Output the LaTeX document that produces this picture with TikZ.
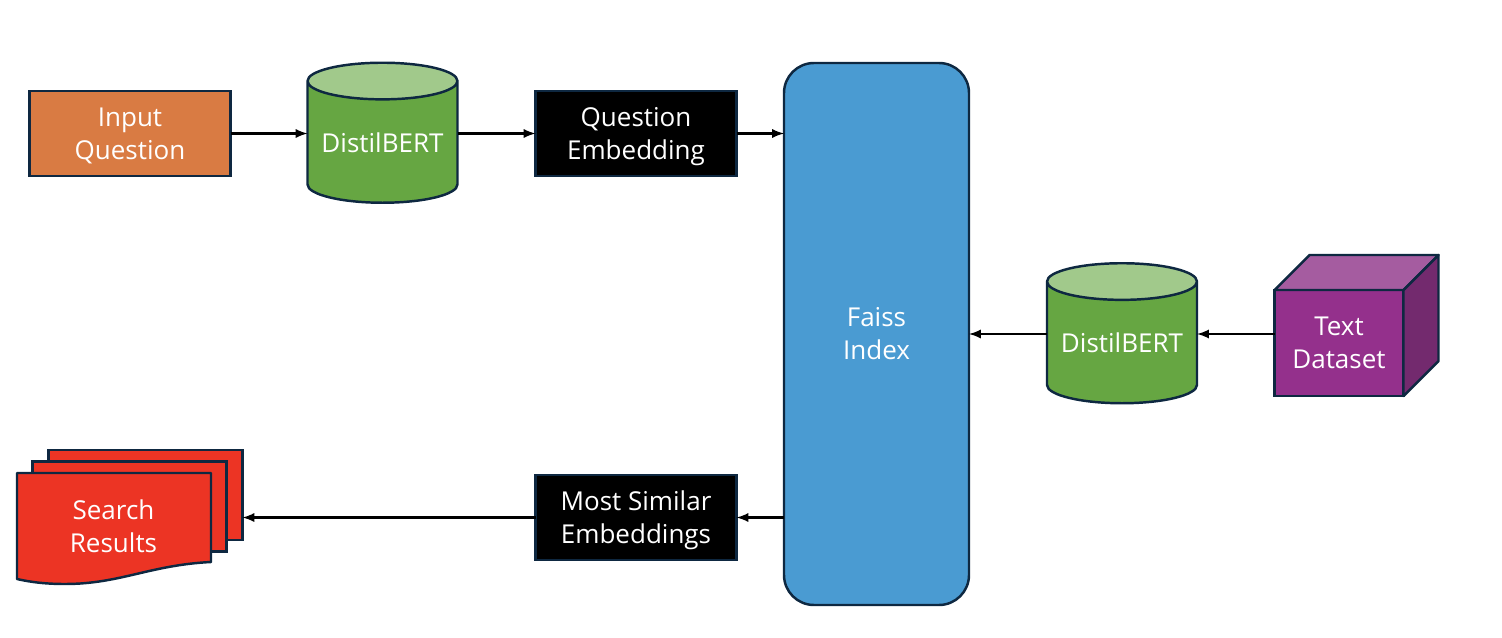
\documentclass[tikz,border=0pt]{standalone}
\usepackage{fontspec}
\setmainfont{Open Sans}
\usetikzlibrary{shapes,arrows,positioning,calc}
\definecolor{edgenavy}{RGB}{14,40,65}
\definecolor{inputorange}{RGB}{217,123,67}
\definecolor{dbgreen}{RGB}{102,166,66}
\definecolor{dblight}{RGB}{161,201,139}
\definecolor{faissblue}{RGB}{74,155,210}
\definecolor{cubepurple}{RGB}{148,48,140}
\definecolor{cubetop}{RGB}{165,92,160}
\definecolor{cubeside}{RGB}{115,42,110}
\definecolor{pagered}{RGB}{236,52,36}

\begin{document}
\begin{tikzpicture}[font=\fontsize{14.8}{18.8}\selectfont, line width=1.4pt,
    box/.style={rectangle, draw=edgenavy, text=white, align=center, text depth=0pt, minimum width=4.02cm, minimum height=1.7cm, outer sep=0pt},
    db/.style={cylinder, shape border rotate=90, aspect=0.3, draw=edgenavy, text=white, cylinder uses custom fill, cylinder body fill=dbgreen, cylinder end fill=dblight, minimum width=3cm, minimum height=2.8cm, inner sep=0pt, outer sep=0pt},
    page/.style={rectangle, draw=edgenavy, fill=pagered, minimum width=3.88cm, minimum height=1.8cm, outer sep=0pt},
    flow/.style={->, >=latex, black, line width=1.3pt}]
        \useasboundingbox (0,0) rectangle (30.04,-12.76);

        \node[box, fill=inputorange] (input) at (2.6,-2.67) {Input\\Question};
        \node[db, right=1.54cm of input, yshift=-0.18cm] (distil) {DistilBERT};
        \node[box, fill=black, right=6.1cm of input] (question) {Question\\Embedding};
        \node[box, fill=black, below=5.98cm of question] (similar) {Most Similar\\Embeddings};
        \node[rectangle, draw=edgenavy, fill=faissblue, text=white, align=center, rounded corners=0.6cm, minimum width=3.7cm, minimum height=10.84cm, outer sep=0pt] (faiss) at (17.53,-6.68) {Faiss\\Index};
        \coordinate (faissmid) at (19.38,-6.68);
        \node[db, right=1.56cm of faissmid, yshift=-0.18cm] (distilb) {DistilBERT};

        % text dataset cube
        \node[rectangle, draw=edgenavy, fill=cubepurple, text=white, align=center, minimum width=2.58cm, minimum height=2.12cm, outer sep=0pt] (dataset) at (26.78,-6.86) {Text\\Dataset};
        \draw[edgenavy, fill=cubetop, line join=round] (dataset.north west) -- ++(0.7,0.7) -- ++(2.58,0) -- (dataset.north east) -- cycle;
        \draw[edgenavy, fill=cubeside, line join=round] (dataset.north east) -- ++(0.7,0.7) -- ++(0,-2.12) -- (dataset.south east) -- cycle;

        % stacked result pages
        \node[page] (pageback) at (2.91,-9.9) {};
        \node[page] (pagemid) at (2.59,-10.13) {};
        \draw[edgenavy, fill=pagered, line join=round] (0.34,-9.46) -- (4.22,-9.46) -- (4.22,-11.24) .. controls (3.0,-11.30) and (2.4,-11.68) .. (1.3,-11.68) .. controls (0.9,-11.68) and (0.6,-11.64) .. (0.34,-11.58) -- cycle;
        \node[text=white, align=center] (results) at (2.27,-10.53) {Search\\Results};

        \draw[flow] (input) -- (input -| distil.west);
        \draw[flow] (input -| distil.east) -- (question);
        \draw[flow] (question) -- (question -| faiss.west);
        \draw[flow] (dataset.west |- faissmid) -- (faissmid -| distilb.east);
        \draw[flow] (faissmid -| distilb.west) -- (faissmid);
        \draw[flow] (similar -| faiss.west) -- (similar);
        \draw[flow] (similar) -- (similar -| pageback.east);
      \end{tikzpicture}
\end{document}
